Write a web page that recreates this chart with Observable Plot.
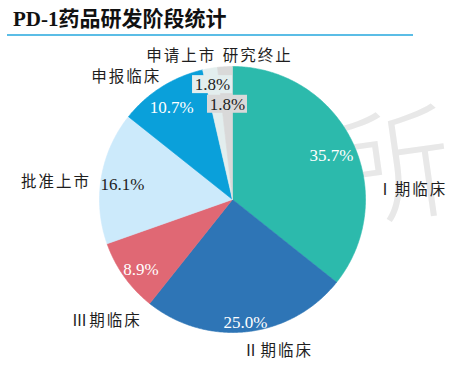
<!DOCTYPE html>
<html><head><meta charset="utf-8">
<script src="https://cdn.jsdelivr.net/npm/d3@7"></script>
<script src="https://cdn.jsdelivr.net/npm/@observablehq/plot@0.6"></script>
<style>
body{margin:0;background:#fff;}
#wrap{position:relative;width:455px;height:365px;overflow:hidden;background:#fff;}
#title{position:absolute;left:13px;top:9px;font:bold 21px/21px "Liberation Serif","Noto Sans CJK SC",serif;color:#111;white-space:nowrap;}
#rule{position:absolute;left:7px;top:34px;width:406px;height:2px;background:#5bbde6;}
#chart{position:absolute;left:0;top:37px;}
g[aria-description="outer"] text{letter-spacing:2px;}
</style></head><body>
<div id="wrap"><div id="title">PD-1药品研发阶段统计</div><div id="rule"></div><div id="chart"></div></div>
<script>
// ---- data ----
const stages = ["Ⅰ期临床","Ⅱ期临床","Ⅲ期临床","批准上市","申报临床","申请上市","研究终止"];
const shares = [35.7, 25.0, 8.9, 16.1, 10.7, 1.8, 1.8];
const valueLabels = ["35.7%","25.0%","8.9%","16.1%","10.7%","1.8%","1.8%"];

// ---- styling / layout (not data) ----
const colors = ["#2cbaac","#2e75b6","#e06874","#cceafb","#0aa0da","#e3eeee","#d9d9d9"];
const darkText = new Set(["批准上市","申请上市","研究终止"]);
const boxed = new Set(["申请上市","研究终止"]);
const R = 133, cx = 232, cy = 162;
// pixel nudges for label placement (Excel-like best fit)
const innerNudge = {"Ⅰ期临床":[3,2],"Ⅱ期临床":[1,17],"Ⅲ期临床":[-5,8],"批准上市":[-5,3],"申报临床":[-4,-2],"申请上市":[-2,-10],"研究终止":[1,11]};
const outerNudge = {"Ⅰ期临床":[24,66],"Ⅱ期临床":[26,-20],"Ⅲ期临床":[15,21],"批准上市":[-6,11],"申报临床":[-14,24],"申请上市":[-22,27],"研究终止":[35,29]};

const rows = stages.map((s,i)=>({stage:s, share:shares[i], label:valueLabels[i]}));
const arcs = d3.pie().sort(null).value(d=>d.share)(rows);

const pts = [];
arcs.forEach(p=>{
  const n = Math.max(2, Math.ceil((p.endAngle-p.startAngle)/0.01));
  pts.push({stage:p.data.stage, x:0, y:0});
  for(let i=0;i<=n;i++){
    const a = p.startAngle + (p.endAngle-p.startAngle)*i/n;
    pts.push({stage:p.data.stage, x:Math.sin(a), y:Math.cos(a)});
  }
  pts.push({stage:p.data.stage, x:0, y:0});
});

function place(p, k, nudge){
  const a = (p.startAngle+p.endAngle)/2;
  const [nx,ny] = nudge[p.data.stage];
  return {x: Math.sin(a)*k + nx/R, y: Math.cos(a)*k - ny/R};
}
const inner = arcs.map(p=>({...place(p,0.8,innerNudge), stage:p.data.stage, label:p.data.label}));
const outer = arcs.map(p=>({...place(p,1.3,outerNudge), stage:p.data.stage}));
const boxes = inner.filter(d=>boxed.has(d.stage)).map(d=>({stage:d.stage, x1:d.x-20/R, x2:d.x+20/R, y1:d.y-9/R, y2:d.y+9/R}));

const chart = Plot.plot({
  width:455, height:328, margin:0,
  x:{domain:[-1,1], range:[cx-R, cx+R], axis:null},
  y:{domain:[-1,1], range:[cy+R, cy-R], axis:null},
  color:{domain:stages, range:colors},
  style:{background:"transparent"},
  marks:[
    Plot.text(["所"],{frameAnchor:"top-left", dx:390, dy:135, text:d=>d, fontSize:125, fill:"#e8e8e8", rotate:-8, fontFamily:"Noto Sans CJK SC", fontWeight:300, textAnchor:"middle", lineAnchor:"middle"}),
    Plot.line(pts,{x:"x", y:"y", z:"stage", fill:"stage", stroke:"stage", strokeWidth:0.6, curve:"linear"}),
    Plot.rect(boxes,{x1:"x1", x2:"x2", y1:"y1", y2:"y2", fill:"stage"}),
    Plot.text(inner,{x:"x", y:"y", text:"label", fontSize:17, fontFamily:"Liberation Serif", fill:d=>darkText.has(d.stage)?"#222":"#ffffff"}),
    Plot.text(outer,{x:"x", y:"y", text:"stage", fontSize:15.5, fontFamily:"Liberation Serif, Noto Sans CJK SC", fill:"#1e1e1e", ariaDescription:"outer"})
  ]
});
document.getElementById("chart").appendChild(chart);
</script>
</body></html>
